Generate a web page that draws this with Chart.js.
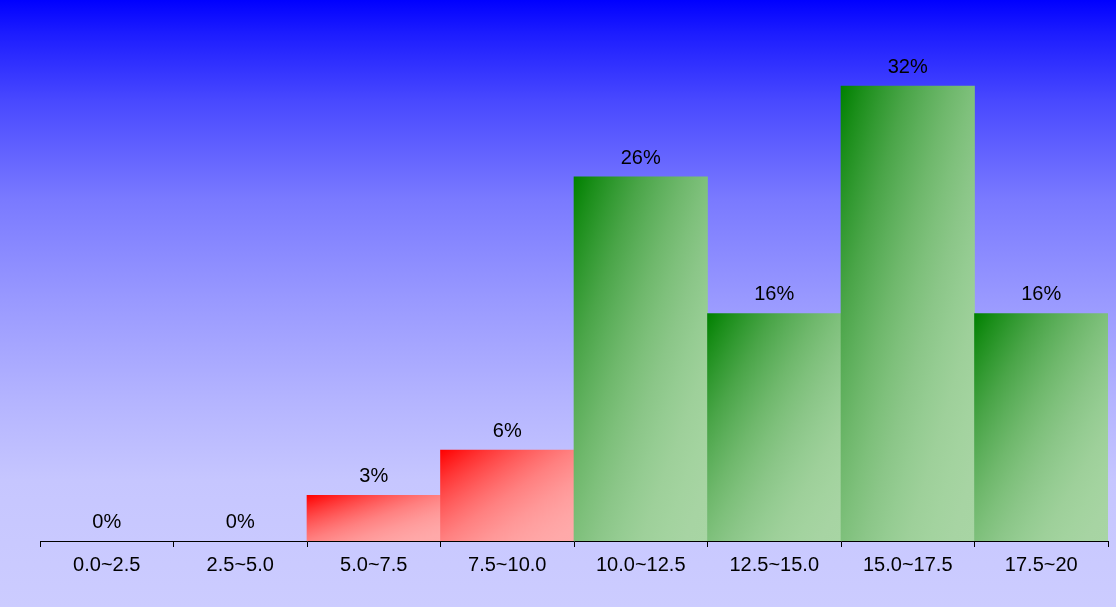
<!DOCTYPE html>
<html>
<head>
<meta charset="utf-8">
<script src="https://cdn.jsdelivr.net/npm/chart.js@4"></script>
<style>
html,body{margin:0;padding:0;background:#ccccff;}
#wrap{width:1116px;height:607px;position:relative;}
</style>
</head>
<body>
<div id="wrap"><canvas id="c" width="1116" height="607"></canvas></div>
<script>
const categories = ["0.0~2.5","2.5~5.0","5.0~7.5","7.5~10.0","10.0~12.5","12.5~15.0","15.0~17.5","17.5~20"];
const percentValues = [0, 0, 3.23, 6.45, 25.81, 16.13, 32.26, 16.13];
const barKind = ["low","low","low","low","high","high","high","high"];

const FONT = "'Liberation Sans', Arial, sans-serif";

function mix(a, b, f) {
  const r = Math.round(a[0] + (b[0] - a[0]) * f);
  const g = Math.round(a[1] + (b[1] - a[1]) * f);
  const bl = Math.round(a[2] + (b[2] - a[2]) * f);
  return 'rgb(' + r + ',' + g + ',' + bl + ')';
}

function bboxGradient(ctx2d, x0, y0, w, h, c0, c1) {
  if (w <= 0 || h <= 0) return 'rgba(0,0,0,0)';
  const t = 2 * h * w / (w * w + h * h);
  const g = ctx2d.createLinearGradient(x0, y0, x0 + t * h, y0 + t * w);
  const N = 12;
  for (let k = 0; k <= N; k++) {
    const s = k / N;
    const f = 1 - (1 - s) * (1 - s);
    g.addColorStop(s, mix(c0, c1, f));
  }
  return g;
}

const bgPlugin = {
  id: 'bgGrad',
  beforeDraw(chart) {
    const c = chart.ctx;
    const H = chart.height;
    const g = c.createLinearGradient(0, 0, 0, H);
    g.addColorStop(0, '#0000ff');
    g.addColorStop(33 / 607, '#1c1cff');
    g.addColorStop(100 / 607, '#4848ff');
    g.addColorStop(200 / 607, '#7a7aff');
    g.addColorStop(300 / 607, '#9999ff');
    g.addColorStop(400 / 607, '#b4b4ff');
    g.addColorStop(480 / 607, '#c6c6ff');
    g.addColorStop(1, '#ccccff');
    c.save();
    c.fillStyle = g;
    c.fillRect(0, 0, chart.width, H);
    c.restore();
  }
};

const labelPlugin = {
  id: 'barLabels',
  afterDatasetsDraw(chart) {
    const c = chart.ctx;
    const meta = chart.getDatasetMeta(0);
    c.save();
    c.font = '20px ' + FONT;
    c.fillStyle = '#000';
    c.textAlign = 'center';
    c.textBaseline = 'alphabetic';
    meta.data.forEach((el, i) => {
      c.fillText(Math.round(percentValues[i]) + '%', el.x, el.y - 13);
    });
    c.restore();
  }
};

new Chart(document.getElementById('c'), {
  type: 'bar',
  data: {
    labels: categories,
    datasets: [{
      data: percentValues,
      categoryPercentage: 1.0,
      barPercentage: 1.0,
      borderWidth: 0,
      backgroundColor(ctx) {
        const chart = ctx.chart;
        const xs = chart.scales.x, ys = chart.scales.y;
        const i = ctx.dataIndex;
        const low = barKind[i] === 'low';
        const c0 = low ? [255, 0, 0] : [0, 128, 0];
        const c1 = low ? [255, 170, 170] : [168, 213, 164];
        if (!xs || !ys || !chart.chartArea || i === undefined) return 'rgba(0,0,0,0)';
        const w = (xs.right - xs.left) / categories.length;
        const cx = xs.getPixelForValue(i);
        const top = ys.getPixelForValue(percentValues[i]);
        const bottom = ys.getPixelForValue(0);
        return bboxGradient(chart.ctx, cx - w / 2, top, w, bottom - top, c0, c1);
      }
    }]
  },
  options: {
    responsive: false,
    animation: false,
    events: [],
    layout: { padding: { left: 40, right: 8, top: 5, bottom: 24 } },
    plugins: { legend: { display: false }, tooltip: { enabled: false } },
    scales: {
      y: { display: false, min: 0, max: 38 },
      x: {
        offset: true,
        grid: { offset: true, drawOnChartArea: false, color: '#000', tickLength: 6, tickWidth: 1 },
        border: { display: true, color: '#000', width: 1 },
        ticks: { color: '#000', font: { size: 20, family: FONT }, padding: 6, maxRotation: 0, autoSkip: false }
      }
    }
  },
  plugins: [bgPlugin, labelPlugin]
});
</script>
</body>
</html>
